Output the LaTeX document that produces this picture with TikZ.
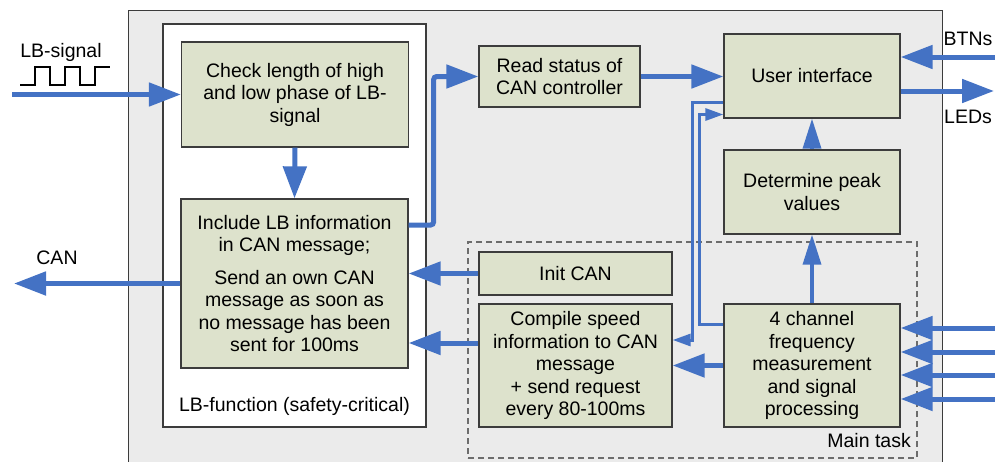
\documentclass[tikz,border=0pt]{standalone}
\usepackage{fontspec}
\setmainfont{Liberation Sans}
\usetikzlibrary{arrows.meta,calc}
\definecolor{arrblue}{RGB}{68,114,196}
\definecolor{boxfill}{RGB}{221,226,204}
\definecolor{outerfill}{RGB}{235,235,235}
\definecolor{boxline}{RGB}{60,60,60}
\begin{document}
\begin{tikzpicture}[x=1pt,y=-1pt,
  every node/.style={font=\fontsize{19.5}{22.5}\selectfont, text=black},
  blk/.style={draw=boxline, line width=1.3pt, fill=boxfill, align=center, inner sep=0pt},
  lbl/.style={inner sep=0pt},
  arr/.style={draw=arrblue, line width=5pt, -{Triangle[length=32pt,width=23pt]}},
  varr/.style={draw=arrblue, line width=3.5pt, -{Triangle[length=30pt,width=18pt]}},
  tarr/.style={draw=arrblue, line width=3pt, -{Triangle[length=18pt,width=12pt]}},
]
\useasboundingbox (0,0) rectangle (995,461);
\clip (0,0) rectangle (995,461);
% outer frame
\node[draw=boxline, line width=0.8pt, fill=outerfill, minimum width=814pt, minimum height=470pt, inner sep=0pt] (outer) at (535,245) {};
% LB-function frame
\node[draw=boxline, line width=1.3pt, fill=white, minimum width=263pt, minimum height=403pt, inner sep=0pt] (lbf) at (294.5,225.5) {};
\node[lbl] (lbflabel) at (294.5,406) {LB-function (safety-critical)};
% main task frame
\node[draw=gray!85!black, dashed, dash pattern=on 6pt off 4pt, line width=2pt, minimum width=449pt, minimum height=216pt, inner sep=0pt] (main) at (692.5,350) {};
\node[lbl, anchor=east] (mainlabel) at (911,441) {Main task};

% blocks
\node[blk, minimum width=227pt, minimum height=105pt] (check) at (295,94.5) {Check length of high\\and low phase of LB-\\signal};
\node[blk, minimum width=227pt, minimum height=169pt] (incl) at (294.5,283.5) {Include LB information\\in CAN message;\\[10pt]Send an own CAN\\message as soon as\\no message has been\\sent for 100ms};
\node[blk, minimum width=161pt, minimum height=61pt] (read) at (559.5,76.5) {Read status of\\CAN controller};
\node[blk, minimum width=176pt, minimum height=84pt] (ui) at (812,76) {User interface};
\node[blk, minimum width=176pt, minimum height=84pt] (peak) at (812,192) {Determine peak\\values};
\node[blk, minimum width=193pt, minimum height=43pt] (initcan) at (575.5,273.5) {Init CAN};
\node[blk, minimum width=193pt, minimum height=123pt] (compile) at (575.5,365.5) {Compile speed\\information to CAN\\message\\+ send request\\every 80-100ms};
\node[blk, minimum width=176pt, minimum height=123pt] (chan) at (812,365.5) {4 channel\\frequency\\measurement\\and signal\\processing};

% outside labels
\node[lbl] (sigtext) at (61,52) {LB-signal};
\node[lbl] (cantext) at (57,258) {CAN};
\node[lbl] (btntext) at (968,39) {BTNs};
\node[lbl] (ledtext) at (968,117) {LEDs};

% LB waveform
\draw[line width=1.3pt, black] (20,85) -- (35,85) -- (35,67) -- (50,67) -- (50,85) -- (65,85) -- (65,67) -- (80,67) -- (80,85) -- (95,85) -- (95,67) -- (110,67);

% free ends
\coordinate (sigin) at (12,94.5);
\coordinate (canout) at (14,283.5);
\coordinate (btnin) at (995,57);
\coordinate (ledout) at (994,91);
\coordinate (in1) at (995,328);
\coordinate (in2) at (995,352);
\coordinate (in3) at (995,375);
\coordinate (in4) at (995,399);
\coordinate (inclout) at ([yshift=58.5pt]incl.east);
\coordinate (compout) at ([yshift=22.5pt]compile.west);
\coordinate (uiout) at ([yshift=-26pt]ui.west);
\coordinate (compin) at ([yshift=25.5pt]compile.east);
\coordinate (chanout) at ([yshift=41.5pt]chan.west);
\coordinate (uiin) at ([yshift=-38.5pt]ui.west);

% connectors
\draw[arr] (sigin) -- (check.west);
\draw[arr] (check.south) -- (incl.north);
\draw[arr, rounded corners=3pt] (inclout) -- ++(25,0) |- (read.west);
\draw[arr] (read.east) -- (read.east -| ui.west);
\draw[arr] (btnin) -- (btnin -| ui.east);
\draw[arr] (ledout -| ui.east) -- (ledout);
\draw[arr] (incl.west) -- (canout);
\draw[arr] (initcan.west) -- (initcan.west -| incl.east);
\draw[arr] (compout) -- (compout -| incl.east);
\draw[arr] (chan.west) -- (compile.east);
\draw[tarr] (uiout) -- ++(-31,0) |- (compin);
\draw[tarr] (chanout) -- ++(-24,0) |- (uiin);
\draw[varr] (chan.north) -- (peak.south);
\draw[varr] (peak.north) -- (ui.south);
\draw[arr] (in1) -- (in1 -| chan.east);
\draw[arr] (in2) -- (in2 -| chan.east);
\draw[arr] (in3) -- (in3 -| chan.east);
\draw[arr] (in4) -- (in4 -| chan.east);
\end{tikzpicture}
\end{document}
